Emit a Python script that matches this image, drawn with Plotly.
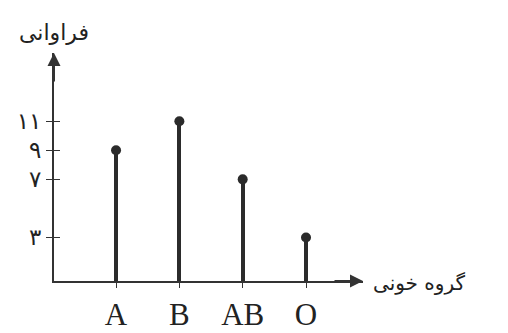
import plotly.graph_objects as go

# گروه خونی و فراوانی
groups = ["A", "B", "AB", "O"]
freq = [9, 11, 7, 3]
ytick_vals = [3, 7, 9, 11]
ytick_text = ["۳", "۷", "۹", "۱۱"]

xpos = list(range(len(groups)))
ink = "#2b2b2b"

fig = go.Figure()
fig.add_trace(go.Bar(x=xpos, y=freq, width=0.06, marker_color=ink,
                     marker_line_width=0, showlegend=False))
fig.add_trace(go.Scatter(x=xpos, y=freq, mode="markers",
                         marker=dict(size=10, color=ink), showlegend=False))
fig.add_trace(go.Scatter(x=[None], y=[None], yaxis="y2", showlegend=False))

# page body has an 8px margin, so the figure is a bit smaller than the window
fig.update_layout(
    width=500, height=325,
    margin=dict(l=46, r=145, t=45, b=52, autoexpand=False),
    plot_bgcolor="white", paper_bgcolor="white",
    font=dict(family="Liberation Serif", color="#222"),
    xaxis=dict(range=[-0.98, 3.9], tickvals=xpos, ticktext=groups,
               showgrid=False, zeroline=False, showline=True, automargin=False,
               linecolor="#333", linewidth=2, ticks="outside",
               ticklen=5, tickcolor="#333", tickfont=dict(size=31)),
    yaxis=dict(range=[0, 15.7], tickvals=ytick_vals, ticktext=ytick_text,
               showgrid=False, zeroline=False, showline=True, automargin=False,
               linecolor="#333", linewidth=2, ticks="outside",
               ticklen=6, tickcolor="#333",
               tickfont=dict(size=23, family="DejaVu Sans")),
    yaxis2=dict(range=[0, 15.7], overlaying="y", tickvals=ytick_vals,
                showticklabels=False, showgrid=False, zeroline=False,
                automargin=False, ticks="inside", ticklen=6, tickcolor="#333"),
    bargap=0,
)

# axis arrows and titles
fig.add_annotation(x=0, y=1, xref="paper", yref="paper", ax=0, ay=30,
                   showarrow=True, arrowhead=2, arrowsize=1.3, arrowwidth=2,
                   arrowcolor="#333", text="")
fig.add_annotation(x=1, y=0, xref="paper", yref="paper", ax=-30, ay=0,
                   showarrow=True, arrowhead=2, arrowsize=1.3, arrowwidth=2,
                   arrowcolor="#333", text="")
fig.add_annotation(x=-0.98, y=1, xref="x", yref="paper", text="فراوانی",
                   showarrow=False, xanchor="center", yanchor="bottom",
                   yshift=6, font=dict(size=22, family="DejaVu Sans"))
fig.add_annotation(x=1, y=0, xref="paper", yref="paper", text="گروه خونی",
                   showarrow=False, xanchor="left", yanchor="middle",
                   xshift=8, yshift=-2, font=dict(size=20, family="DejaVu Sans"))

fig.write_html("out.html")
